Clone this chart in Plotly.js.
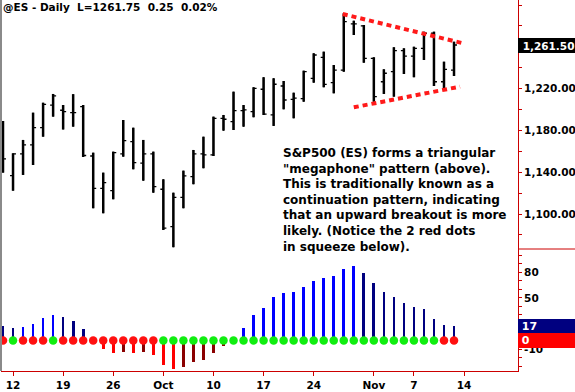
<!DOCTYPE html>
<html><head><meta charset="utf-8">
<script src="https://cdn.plot.ly/plotly-3.0.1.min.js"></script>
<style>html,body{margin:0;padding:0;background:#fff;overflow:hidden}#chart{width:575px;height:392px}</style>
</head><body><div id="chart"></div>
<script>
const dates = [
 '2011-09-09',
 '2011-09-12','2011-09-13','2011-09-14','2011-09-15','2011-09-16',
 '2011-09-19','2011-09-20','2011-09-21','2011-09-22','2011-09-23',
 '2011-09-26','2011-09-27','2011-09-28','2011-09-29','2011-09-30',
 '2011-10-03','2011-10-04','2011-10-05','2011-10-06','2011-10-07',
 '2011-10-10','2011-10-11','2011-10-12','2011-10-13','2011-10-14',
 '2011-10-17','2011-10-18','2011-10-19','2011-10-20','2011-10-21',
 '2011-10-24','2011-10-25','2011-10-26','2011-10-27','2011-10-28',
 '2011-10-31','2011-11-01','2011-11-02','2011-11-03','2011-11-04',
 '2011-11-07','2011-11-08','2011-11-09','2011-11-10','2011-11-11'
];
const open = [1181.1,1136.7,1157.5,1166.1,1182.6,1204.3,1199.3,1197.0,1202.7,1155.5,
 1124.6,1122.3,1157.5,1169.2,1148.6,1157.5,1123.7,1087.9,1116.0,1135.7,
 1157.5,1156.5,1191.6,1188.4,1198.9,1198.0,1219.4,1194.8,1222.5,1209.8,
 1210.5,1229.9,1250.0,1225.7,1237.8,1281.9,1280.0,1249.0,1226.6,1236.2,
 1256.3,1251.2,1258.6,1273.0,1226.6,1237.8];
const high = [1189.0,1158.1,1170.9,1197.0,1206.5,1214.9,1204.3,1214.7,1204.3,1158.7,
 1139.6,1159.7,1190.0,1182.6,1170.9,1159.7,1133.2,1120.4,1141.5,1161.3,
 1174.0,1193.2,1194.8,1217.1,1204.3,1221.3,1230.9,1229.9,1227.3,1216.1,
 1237.2,1253.8,1255.4,1242.6,1292.1,1285.0,1280.9,1250.0,1238.5,1259.6,
 1258.6,1260.1,1274.5,1274.5,1245.8,1264.9];
const low = [1139.6,1122.3,1137.4,1146.9,1174.0,1193.2,1180.9,1183.6,1154.6,1105.5,
 1100.7,1114.1,1154.9,1142.8,1131.9,1120.4,1084.7,1068.2,1105.5,1128.5,
 1143.8,1155.5,1179.8,1180.4,1183.6,1192.6,1194.8,1184.3,1200.2,1191.6,
 1207.5,1225.7,1221.3,1215.5,1236.2,1271.3,1244.8,1207.5,1214.9,1212.3,
 1234.0,1230.9,1247.4,1222.5,1218.7,1232.1];
const close = [1152.7,1157.5,1166.1,1182.6,1205.0,1213.0,1197.9,1197.0,1156.0,1124.6,
 1130.0,1158.7,1170.2,1149.1,1157.5,1126.2,1086.4,1116.0,1136.4,1157.5,
 1156.5,1191.6,1190.7,1198.9,1199.6,1220.3,1195.5,1224.2,1209.1,1211.0,
 1236.2,1252.2,1224.0,1237.8,1284.1,1281.9,1249.0,1212.3,1234.7,1256.3,
 1251.2,1258.6,1273.0,1226.6,1238.5,1261.75];
const momentum = [17.2,14.5,16.0,19.5,26.6,30.1,27.4,22.7,13.3,-1.0,
 -10.2,-14.5,-13.3,-14.5,-13.3,-17.2,-28.9,-33.2,-30.9,-25.0,
 -23.1,-14.8,-6.3,1.0,14.5,29.7,37.9,50.8,55.9,57.1,
 62.9,69.9,73.5,75.8,84.0,87.5,79.3,67.6,57.1,51.2,
 44.2,39.5,37.1,25.4,18.4,17.0];
const squeezeOn = [1,0,1,1,1,0,1,1,1,1,1,1,1,1,1,1,0,0,0,0,0,0,0,0,0,0,0,0,0,0,
 0,0,0,0,0,0,0,0,0,0,0,0,0,0,1,1];
const tickDates = ['2011-09-12','2011-09-19','2011-09-26','2011-10-03','2011-10-10',
 '2011-10-17','2011-10-24','2011-11-01','2011-11-07','2011-11-14'];
const tickLabels = ['12','19','26','Oct','10','17','24','Nov','7','14'];
const priceLabelTicks = [1100,1140,1180,1220];
const momLabelTicks = [-10,50,80];
const lastPrice = 1261.50;
const lastMomentum = 17;
const lastSqueeze = 0;
const upperLine = {x:[33.9,45.9], y:[1291.4,1263.4]};
const lowerLine = {x:[35.0,45.6], y:[1202.1,1221.9]};
const titleText = '@ES - Daily\u00a0 L=1261.75\u00a0 0.25\u00a0 0.02%';
const noteText = 'S&P500 (ES) forms a triangular<br>"megaphone" pattern (above).<br>This is traditionally known as a<br>continuation pattern, indicating<br>that an upward breakout is more<br>likely. (Notice the 2 red dots<br>in squeeze below).';

// positions
const xs = dates.map((d,i)=>i);
function dayIndex(d){
  const k = dates.indexOf(d);
  if (k >= 0) return k;
  let t = new Date(dates[dates.length-1]+'T00:00:00Z'), end = new Date(d+'T00:00:00Z'), n = dates.length-1;
  while (t < end){ t = new Date(t.getTime()+86400000); const w=t.getUTCDay(); if (w!==0 && w!==6) n++; }
  return n;
}
const tickPos = tickDates.map(dayIndex);

const RED = '#cc0000';
const fontB = {family:'DejaVu Sans', size:10.5, weight:'bold', color:'#000'};

const barColors = momentum.map((v,i)=>{
  const prev = i>0 ? momentum[i-1] : null;
  if (v >= 0) return (prev!==null && v > prev) ? '#0000ff' : '#000080';
  return (prev!==null && v < prev) ? '#ff0000' : '#8b0000';
});
const dotColors = squeezeOn.map(s => s ? '#ff1010' : '#10ee10');

const pTicks=[], pText=[];
for (let v=1080; v<=1300; v+=20){ pTicks.push(v); pText.push(priceLabelTicks.includes(v) ? v.toLocaleString('en-US',{minimumFractionDigits:2}) : ''); }
const mTicks=[], mText=[];
for (let v=-30; v<=100; v+=10){ mTicks.push(v); mText.push(momLabelTicks.includes(v) ? String(v) : ''); }

const traces = [
  {type:'ohlc', x:xs, open:open, high:high, low:low, close:close, tickwidth:0.3,
   increasing:{line:{color:'#000',width:1.3}}, decreasing:{line:{color:'#000',width:1.3}},
   hoverinfo:'skip', xaxis:'x', yaxis:'y'},
  {type:'ohlc', x:xs, open:open, high:high, low:low, close:close, tickwidth:0,
   increasing:{line:{color:'#000',width:2.5}}, decreasing:{line:{color:'#000',width:2.5}},
   hoverinfo:'skip', xaxis:'x', yaxis:'y'},
  {type:'scatter', mode:'lines', x:upperLine.x, y:upperLine.y, line:{color:'#ff1a1a', width:4, dash:'5px,4px'}, hoverinfo:'skip', xaxis:'x', yaxis:'y'},
  {type:'scatter', mode:'lines', x:lowerLine.x, y:lowerLine.y, line:{color:'#ff1a1a', width:4, dash:'5px,4px'}, hoverinfo:'skip', xaxis:'x', yaxis:'y'},
  {type:'bar', x:xs, y:momentum, width:0.27, marker:{color:barColors, line:{width:0}}, hoverinfo:'skip', xaxis:'x', yaxis:'y2'},
  {type:'scatter', mode:'markers', x:xs, y:xs.map(()=>0), marker:{size:8.5, color:dotColors, line:{width:0}}, cliponaxis:false, hoverinfo:'skip', xaxis:'x', yaxis:'y2'}
];

const split = 122/371;
const layout = {
  width:575, height:392, margin:{l:1, r:57, t:0, b:21},
  paper_bgcolor:'#fff', plot_bgcolor:'#fff', showlegend:false,
  title:{text:titleText, font:{family:'DejaVu Sans', size:10.5, weight:'bold', color:'#000'},
    xref:'container', yref:'container', x:3/575, xanchor:'left', y:1-4/392, yanchor:'top'},
  bargap:0,
  xaxis:{range:[-0.2,51.385], showgrid:false, zeroline:false, showline:true, linecolor:RED, linewidth:1,
    ticks:'outside', ticklen:4, tickcolor:RED, tickvals:tickPos, ticktext:tickLabels, tickfont:fontB,
    anchor:'y2', rangeslider:{visible:false}, fixedrange:true},
  yaxis:{domain:[split,1], side:'right', range:[1066.5,1304.83], showgrid:false, zeroline:false,
    showline:true, linecolor:RED, linewidth:1, ticks:'outside', ticklen:3, tickcolor:RED,
    tickvals:pTicks, ticktext:pText, tickfont:fontB, anchor:'x', fixedrange:true},
  yaxis2:{domain:[0,split], side:'right', range:[-35.8,107.3], showgrid:false, zeroline:false,
    showline:true, linecolor:RED, linewidth:1, ticks:'outside', ticklen:3, tickcolor:RED,
    tickvals:mTicks, ticktext:mText, tickfont:fontB, anchor:'x', fixedrange:true},
  shapes:[
    {type:'line', xref:'paper', yref:'paper', x0:0, x1:0, y0:0, y1:1, line:{color:'#8a8a8a', width:2}},
    {type:'line', xref:'paper', yref:'paper', x0:1, x1:1.12, y0:split, y1:split, line:{color:RED, width:1}}
  ],
  annotations:[
    {xref:'paper', yref:'paper', x:280/517, y:(371-144.5)/371, xanchor:'left', yanchor:'top', align:'left',
     showarrow:false, text:noteText, font:{family:'DejaVu Sans', size:12, weight:'bold', color:'#000'}},
    {xref:'paper', yref:'y', x:1, y:lastPrice, xanchor:'left', yanchor:'middle', align:'left', showarrow:false,
     text:'\u00a0'+lastPrice.toLocaleString('en-US',{minimumFractionDigits:2}), bgcolor:'#000', borderwidth:0, borderpad:1,
     width:56, height:13, font:{family:'DejaVu Sans', size:10.5, weight:'bold', color:'#fff'}},
    {xref:'paper', yref:'y2', x:1, y:lastMomentum, xanchor:'left', yanchor:'middle', align:'left', showarrow:false,
     text:'\u00a0'+lastMomentum, bgcolor:'#000080', borderwidth:0, borderpad:0,
     width:58, height:14, font:{family:'DejaVu Sans', size:11, weight:'bold', color:'#fff'}},
    {xref:'paper', yref:'y2', x:1, y:lastSqueeze, xanchor:'left', yanchor:'middle', align:'left', showarrow:false,
     text:'\u00a0'+lastSqueeze, bgcolor:'#ff0000', borderwidth:0, borderpad:0,
     width:58, height:15, font:{family:'DejaVu Sans', size:11, weight:'bold', color:'#fff'}}
  ]
};
Plotly.newPlot('chart', traces, layout, {displayModeBar:false, staticPlot:true});
</script></body></html>
